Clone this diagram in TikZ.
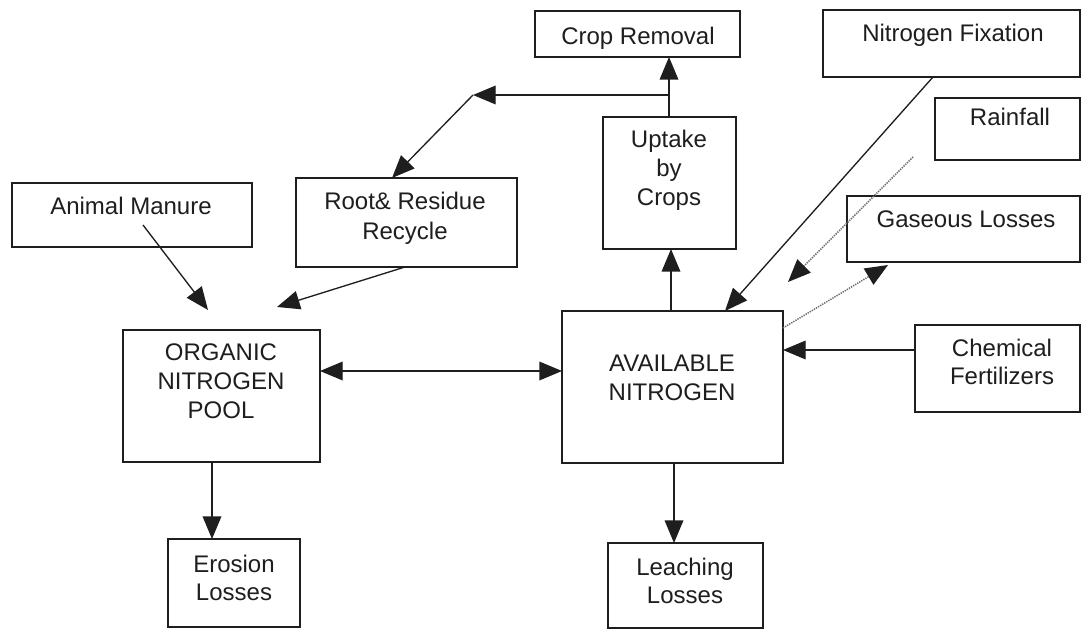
\documentclass[tikz,border=0pt]{standalone}
\usepackage{fontspec}
\setmainfont{Liberation Sans}
\usetikzlibrary{arrows.meta}
\definecolor{ink}{HTML}{1E1E1E}
\definecolor{dotink}{HTML}{6E6E6E}
% box given by left, top, right, bottom (pixel-like units)
\newcommand\flowbox[5]{%
  \node[box, anchor=north west,
        minimum width={(#4-#2)*0.75pt}, minimum height={(#5-#3)*0.75pt}]
        (#1) at (#2,#3) {};}
\begin{document}
\begin{tikzpicture}[x=0.75pt,y=-0.75pt,
  box/.style={draw=ink, line width=1pt, rectangle, inner sep=0pt, outer sep=0pt},
  txt/.style={text=ink, font=\fontsize{18}{21}\selectfont, inner sep=0pt, anchor=base},
  tip/.style={-{Triangle[length=17pt,width=14pt,color=ink]}},
  flow/.style={draw=ink, line width=1pt, tip},
  both/.style={draw=ink, line width=1pt,
    {Triangle[length=17pt,width=14pt,color=ink]}-{Triangle[length=17pt,width=14pt,color=ink]}},
  dots/.style={draw=dotink, line width=1.1pt, dash pattern=on 1pt off 0.8pt, tip}
]
\fill[white] (0,0) rectangle (1081,630);
\useasboundingbox (0,0) rectangle (1081,630);

% ---- boxes ----
\flowbox{crop}{535}{11}{740}{57}
\flowbox{nfix}{823}{10}{1080}{77}
\flowbox{rain}{935}{98}{1080}{160}
\flowbox{gas}{847}{196}{1080}{262}
\flowbox{chem}{915}{325}{1080}{412}
\flowbox{uptake}{603}{117}{736}{249}
\flowbox{root}{296}{178}{517}{267}
\flowbox{manure}{12}{183}{252}{247}
\flowbox{org}{123}{330}{320}{462}
\flowbox{avail}{562}{311}{783}{463}
\flowbox{eros}{168}{539}{300}{627}
\flowbox{leach}{608}{543}{763}{628}

% ---- labels ----
\node[txt] (crop-t) at (638,45) {Crop Removal};
\node[txt] (nfix-t) at (953,42) {Nitrogen Fixation};
\node[txt] (rain-t) at (1010,126) {Rainfall};
\node[txt] (gas-t) at (966,228) {Gaseous Losses};
\node[txt] (chem-t1) at (1002,357) {Chemical};
\node[txt] (chem-t2) at (1002,385) {Fertilizers};
\node[txt] (uptake-t1) at (669,148) {Uptake};
\node[txt] (uptake-t2) at (669,177) {by};
\node[txt] (uptake-t3) at (669,206) {Crops};
\node[txt] (root-t1) at (405,210) {Root\& Residue};
\node[txt] (root-t2) at (405,240) {Recycle};
\node[txt] (manure-t) at (131,215) {Animal Manure};
\node[txt] (org-t1) at (221,361) {ORGANIC};
\node[txt] (org-t2) at (221,390) {NITROGEN};
\node[txt] (org-t3) at (221,419) {POOL};
\node[txt] (avail-t1) at (672,372) {AVAILABLE};
\node[txt] (avail-t2) at (672,401) {NITROGEN};
\node[txt] (eros-t1) at (234,572) {Erosion};
\node[txt] (eros-t2) at (234,600) {Losses};
\node[txt] (leach-t1) at (685,575) {Leaching};
\node[txt] (leach-t2) at (685,603) {Losses};

% ---- connector end points ----
\coordinate (split) at (669,95);
\coordinate (bend) at (473,95);
\coordinate (manure-out) at (143,225);
\coordinate (manure-in) at (208,310);
\coordinate (root-in) at (277,307);
\coordinate (rain-out) at (913,157);
\coordinate (rain-in) at (788,282);
\coordinate (gas-out) at (783,328);
\coordinate (gas-in) at (888,265);

% ---- connectors ----
\draw[flow] (uptake.north -| split) -- (crop.south -| split);
\draw[flow] (split) -- (bend);
\draw[flow] (bend) -- (root.north -| 392,0);
\draw[flow] (manure-out) -- (manure-in);
\draw[flow] (root.south -| 405,0) -- (root-in);
\draw[both] (org.east |- 0,371) -- (avail.west |- 0,371);
\draw[flow] (org.south -| 212,0) -- (eros.north -| 212,0);
\draw[flow] (avail.north -| 671,0) -- (uptake.south -| 671,0);
\draw[flow] (nfix.south -| 933,0) -- (avail.north -| 725,0);
\draw[dots] (rain-out) -- (rain-in);
\draw[dots] (gas-out) -- (gas-in);
\draw[flow] (chem.west |- 0,350) -- (avail.east |- 0,350);
\draw[flow] (avail.south -| 674,0) -- (leach.north -| 674,0);
\end{tikzpicture}
\end{document}
